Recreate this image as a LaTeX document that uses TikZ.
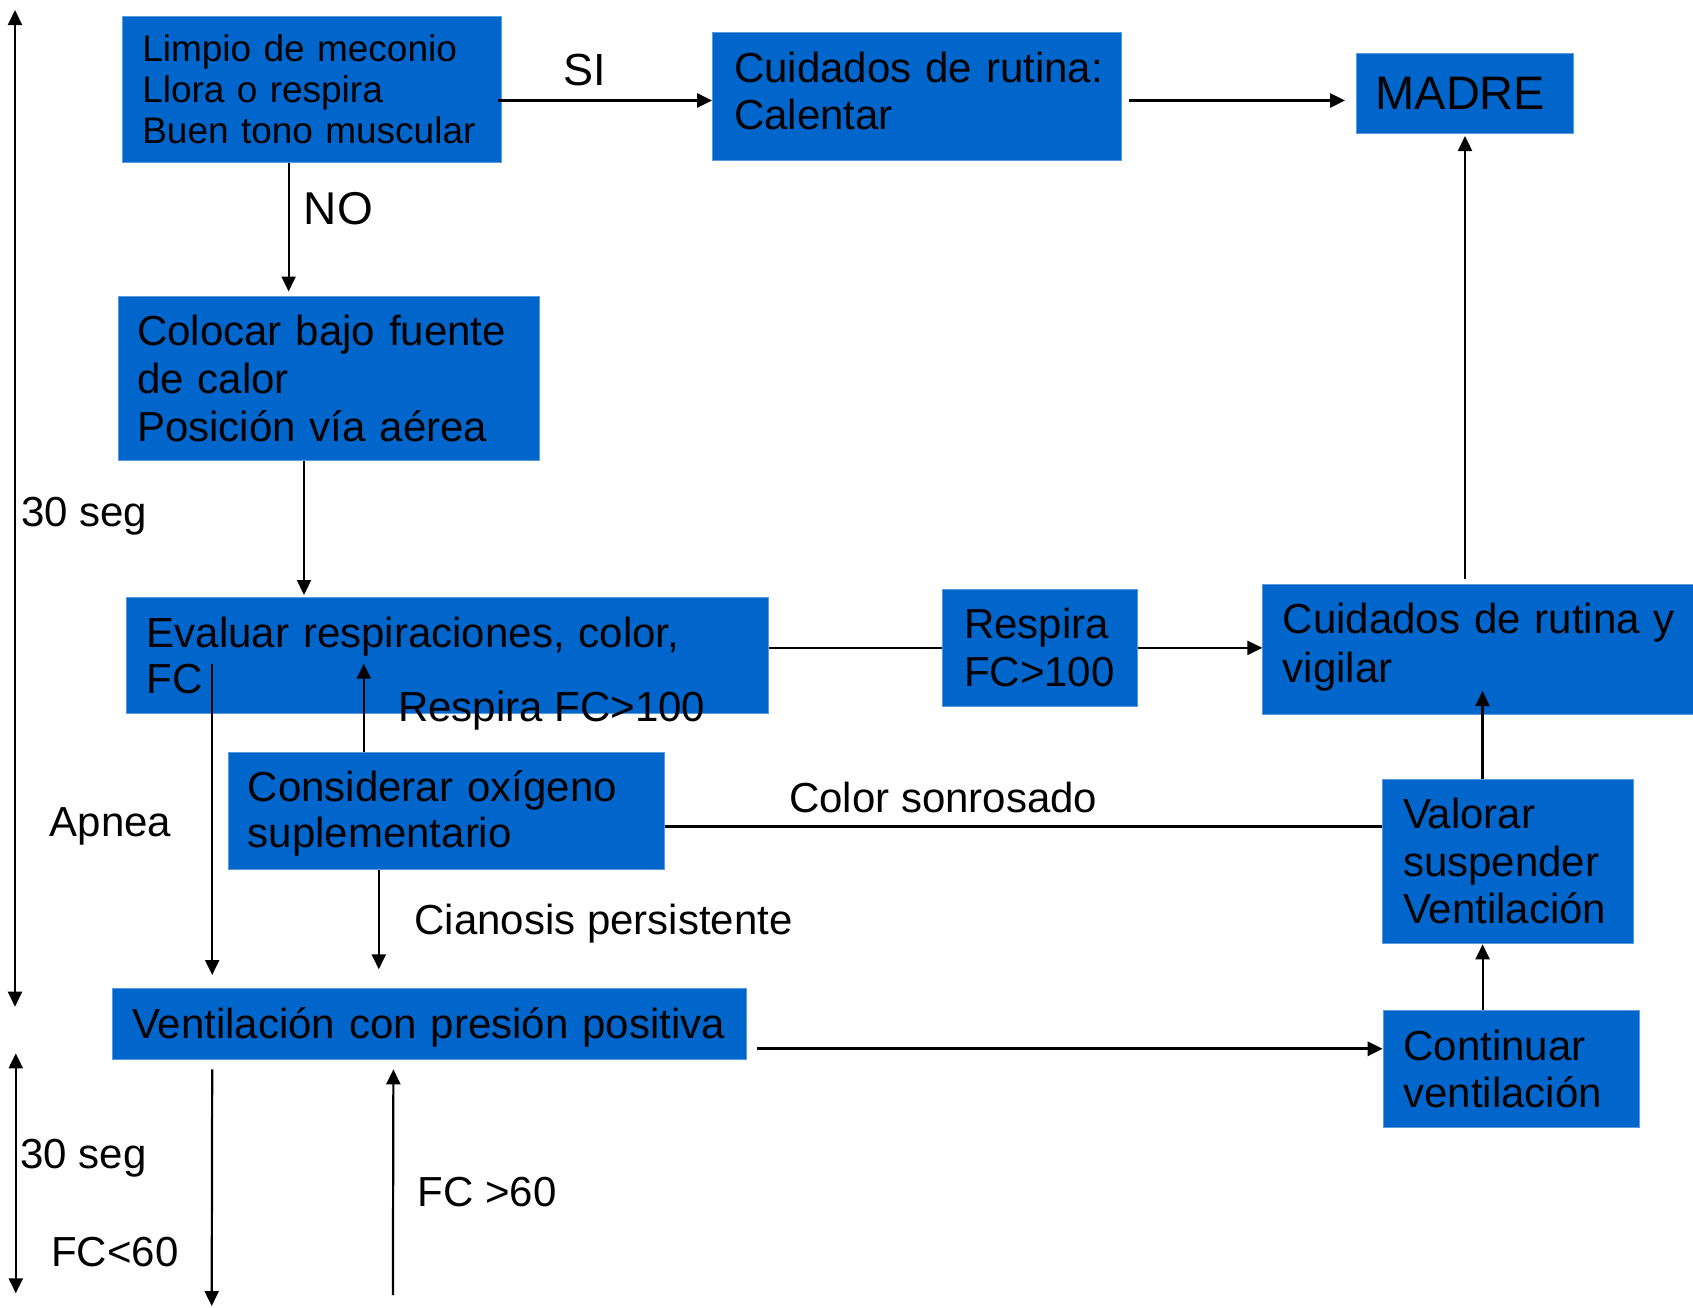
\documentclass[tikz,border=0pt]{standalone}
\usepackage{fontspec}
\setmainfont{Liberation Sans}
\usetikzlibrary{arrows.meta}
\definecolor{boxblue}{HTML}{0066CC}
\definecolor{boxedge}{HTML}{5A9BE0}
\tikzset{
  box/.style={fill=boxblue, draw=boxedge, line width=1pt, anchor=north west,
    inner ysep=0pt, align=left, minimum width=0pt, minimum height=0pt, text=black},
  lbl/.style={anchor=base west, inner sep=0pt, text=black, font=\fontsize{42}{48}\selectfont},
  arr/.style={line width=2.2pt, -{Triangle[length=15pt,width=14pt]}},
  dbl/.style={line width=2.2pt, {Triangle[length=15pt,width=14pt]}-{Triangle[length=15pt,width=14pt]}},
  ln/.style={line width=2.2pt},
}
\begin{document}
\begin{tikzpicture}[x=1pt,y=-1pt]
\useasboundingbox (0,0) rectangle (1693,1307);

% boxes
\node[box, inner xsep=19.7pt, text width=339.6pt, text height=45.3pt, text depth=100.7pt,
  font=\fontsize{37}{41.2}\selectfont] (lim) at (122.1,15.7)
  {Limpio de meconio\\Llora o respira\\Buen tono muscular};
\node[box, inner xsep=21.7pt, text width=366pt, text height=50pt, text depth=78.6pt,
  font=\fontsize{42}{47.6}\selectfont] (cui) at (712,31.7)
  {\mbox{Cuidados de rutina:}\\Calentar};
\node[box, inner xsep=19pt, text width=179pt, text height=55.7pt, text depth=24.3pt,
  font=\fontsize{47}{52}\selectfont] (madre) at (1356,53.3) {MADRE};
\node[box, inner xsep=19.1pt, text width=383.3pt, text height=49.5pt, text depth=115pt,
  font=\fontsize{42}{47.8}\selectfont] (col) at (117.5,295.5)
  {Colocar bajo fuente\\de calor\\Posición vía aérea};
\node[box, inner xsep=20.4pt, text width=601.2pt, text height=50pt, text depth=66.6pt,
  font=\fontsize{42}{46}\selectfont] (eva) at (126,596.7)
  {Evaluar respiraciones, color,\\FC};
\node[box, inner xsep=21.1pt, text width=152pt, text height=49.3pt, text depth=67.4pt,
  font=\fontsize{42}{47.7}\selectfont] (resp) at (942.4,589)
  {Respira\\\mbox{FC>100}};
\node[box, inner xsep=19.8pt, text width=392pt, text height=49.8pt, text depth=81pt,
  font=\fontsize{42}{48.4}\selectfont] (cuiv) at (1262.4,583.5)
  {\mbox{Cuidados de rutina y}\\vigilar};
\node[box, inner xsep=19.4pt, text width=397pt, text height=48.4pt, text depth=68.3pt,
  font=\fontsize{42}{46.6}\selectfont] (con) at (228,752.3)
  {Considerar oxígeno\\suplementario};
\node[box, inner xsep=21pt, text width=209.3pt, text height=49.3pt, text depth=115pt,
  font=\fontsize{42}{47.2}\selectfont] (val) at (1381.5,779)
  {Valorar\\suspender\\\mbox{Ventilación}};
\node[box, inner xsep=19.4pt, text width=594.9pt, text height=50pt, text depth=21pt,
  font=\fontsize{42}{47}\selectfont] (ven) at (112.2,988.3)
  {\mbox{Ventilación con presión positiva}};
\node[box, inner xsep=20.3pt, text width=215.9pt, text height=50pt, text depth=66.7pt,
  font=\fontsize{42}{47.3}\selectfont] (cont) at (1382.7,1010)
  {Continuar\\ventilación};

% connectors
\draw[arr, line width=3pt] ([xshift=-4pt,yshift=-11.3pt]lim.east) -- ([yshift=-4pt]cui.west);
\draw[arr, line width=3pt] ([xshift=7pt,yshift=-4pt]cui.east) -- ([xshift=-11pt,yshift=-6.7pt]madre.west);

\coordinate (a1) at ([xshift=-23.5pt]lim.south);
\draw[arr, shorten >=4pt] (a1) -- (a1 |- col.north);

\coordinate (a2) at ([xshift=-24.75pt]col.south);
\draw[arr, shorten >=1.7pt] (a2) -- (a2 |- eva.north);

\draw[ln] (eva.east |- resp.west) -- (resp.west);
\draw[arr] (resp.east) -- (resp.east -| cuiv.west);

\coordinate (a3) at ([yshift=5pt]cuiv.north);
\draw[arr, shorten >=1.7pt] (a3 -| madre.south) -- (madre.south);

\coordinate (a4) at ([xshift=-25.15pt]val.north);
\draw[arr, shorten >=-24.3pt] (a4) -- (a4 |- cuiv.south);

\coordinate (a5) at ([yshift=-15.35pt]con.east);
\draw[ln] (a5) -- (a5 -| val.west);

\coordinate (a6) at ([xshift=-82.6pt]con.north);
\draw[arr, shorten >=-50.6pt] (a6) -- (a6 |- eva.south);

\coordinate (a7) at ([xshift=-235.3pt,yshift=50pt]eva.south);
\draw[arr, shorten >=13.3pt] (a7) -- (a7 |- ven.north);

\coordinate (a8) at ([xshift=-67.6pt]con.south);
\draw[arr, shorten >=19pt] (a8) -- (a8 |- ven.north);

\coordinate (a9) at ([yshift=20.05pt]cont.west);
\draw[arr, line width=3pt, shorten <=10.2pt] (ven.east |- a9) -- (a9);

\coordinate (a10) at ([xshift=-28.85pt]cont.north);
\draw[arr] (a10) -- (a10 |- val.south);

\coordinate (a11) at ([xshift=-217.35pt,yshift=-9pt]ven.south);
\coordinate (e11) at (211.7,1306);
\draw[arr] (a11) -- (e11);

\coordinate (s12) at (392.9,1295);
\draw[arr] (s12) -- ([xshift=-36.15pt,yshift=-9pt]ven.south);

\coordinate (t1) at (15,10);
\coordinate (t2) at (15,1006.7);
\draw[dbl] (t1) -- (t2);
\coordinate (t3) at (15.8,1053.3);
\coordinate (t4) at (15.8,1293.3);
\draw[dbl] (t3) -- (t4);

% labels
\node[lbl, font=\fontsize{45}{50}\selectfont] (lsi) at (563.5,85) {SI};
\node[lbl, font=\fontsize{46}{50}\selectfont] (lno) at (303.6,224) {NO};
\node[lbl] (l30a) at (21,526.7) {30 seg};
\node[lbl] (lresp) at (398,721.7) {Respira FC>100};
\node[lbl] (lapnea) at (49.5,836) {Apnea};
\node[lbl] (lcolor) at (789,812.3) {Color sonrosado};
\node[lbl] (lcian) at (414.3,934) {Cianosis persistente};
\node[lbl] (l30b) at (20.4,1168.3) {30 seg};
\node[lbl] (lfcm) at (417.3,1206) {FC >60};
\node[lbl] (lfcl) at (51,1266.7) {FC<60};
\end{tikzpicture}
\end{document}
